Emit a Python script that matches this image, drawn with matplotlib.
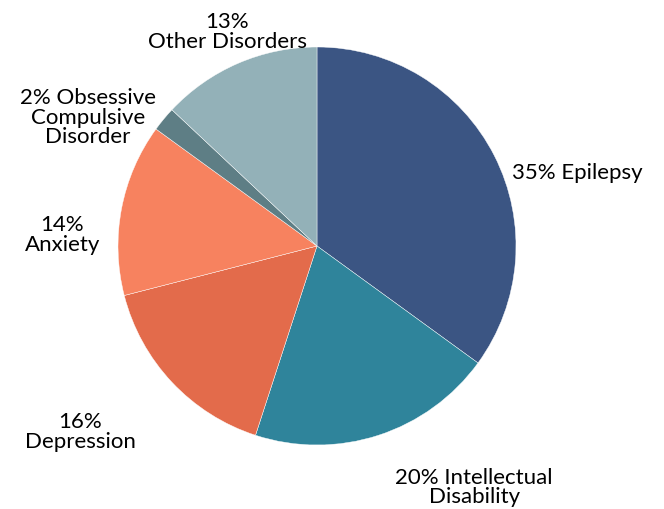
import matplotlib.pyplot as plt
import numpy as np

labels = ["35% Epilepsy", "20% Intellectual\nDisability", "16%\nDepression",
          "14%\nAnxiety", "2% Obsessive\nCompulsive\nDisorder", "13%\nOther Disorders"]
shares = [35, 20, 16, 14, 2, 13]
colors = ["#3b5583", "#2f849b", "#e36b4b", "#f7825f", "#5e7e85", "#93b1b8"]

# label offsets from the pie centre, in units of the radius (x right, y up)
label_pos = [(1.31, 0.37), (0.79, -1.21), (-1.19, -0.93),
             (-1.28, 0.06), (-1.15, 0.65), (-0.45, 1.08)]

plt.rcParams['font.family'] = ['Lato', 'DejaVu Sans']

fig = plt.figure(figsize=(6.64, 5.10), dpi=100)
ax = fig.add_axes([0, 0, 1, 1])

cx, cy, r = 317, 263, 199
ax.pie(shares, colors=colors, startangle=90, counterclock=False,
       center=(cx, cy), radius=r, frame=True,
       wedgeprops=dict(edgecolor="white", linewidth=0.3))
ax.set_xlim(0, 664)
ax.set_ylim(0, 510)
ax.set_aspect('equal')
ax.axis('off')

for text, (dx, dy) in zip(labels, label_pos):
    ax.text(cx + dx * r, cy + dy * r, text, ha="center", va="center",
            fontsize=16, color="black", linespacing=0.95)

fig.savefig("out.png", dpi=100)
